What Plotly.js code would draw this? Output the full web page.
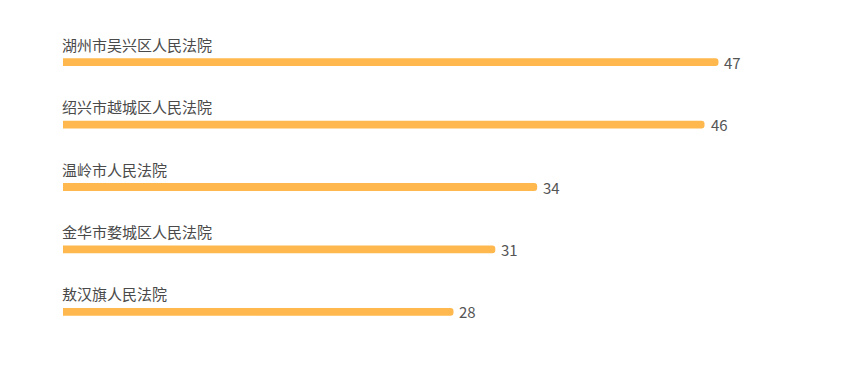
<!DOCTYPE html>
<html>
<head>
<meta charset="utf-8">
<script src="https://cdn.plot.ly/plotly-3.0.1.min.js"></script>
<style>
  html, body { margin: 0; padding: 0; background: #ffffff; }
  #chart { width: 850px; height: 375px; }
</style>
</head>
<body>
<div id="chart"></div>
<script>
// Courts ranked by case count
const courts = ['湖州市吴兴区人民法院', '绍兴市越城区人民法院', '温岭市人民法院', '金华市婺城区人民法院', '敖汉旗人民法院'];
const counts = [47, 46, 34, 31, 28];

const barColor = '#FFB84D';
const fontFamily = '"Noto Sans CJK SC", "Noto Sans", sans-serif';

const trace = {
  type: 'bar',
  orientation: 'h',
  x: counts,
  y: courts,
  width: 0.125,
  marker: { color: barColor, cornerradius: 4 },
  hoverinfo: 'x+y'
};

// Court names sit above each bar, counts just past the bar end
const annotations = [];
courts.forEach((name, i) => {
  annotations.push({
    x: 0, y: name, xref: 'x', yref: 'y',
    text: name, showarrow: false,
    xanchor: 'left', yanchor: 'middle', yshift: 18, xshift: -3,
    font: { family: fontFamily, size: 15, color: '#4a4a4a' }
  });
  annotations.push({
    x: counts[i], y: name, xref: 'x', yref: 'y',
    text: String(counts[i]), showarrow: false,
    xanchor: 'left', yanchor: 'middle', xshift: 4,
    font: { family: fontFamily, size: 15, color: '#555555' }
  });
});

const layout = {
  width: 850, height: 375,
  margin: { l: 63, r: 13, t: 31, b: 32 },
  paper_bgcolor: '#ffffff',
  plot_bgcolor: '#ffffff',
  showlegend: false,
  xaxis: {
    range: [0, 55.5], showgrid: false, zeroline: false,
    showticklabels: false, showline: false, ticks: ''
  },
  yaxis: {
    autorange: 'reversed', showgrid: false, zeroline: false,
    showticklabels: false, showline: false, ticks: ''
  },
  annotations: annotations
};

Plotly.newPlot('chart', [trace], layout, { displayModeBar: false, staticPlot: true });
</script>
</body>
</html>
